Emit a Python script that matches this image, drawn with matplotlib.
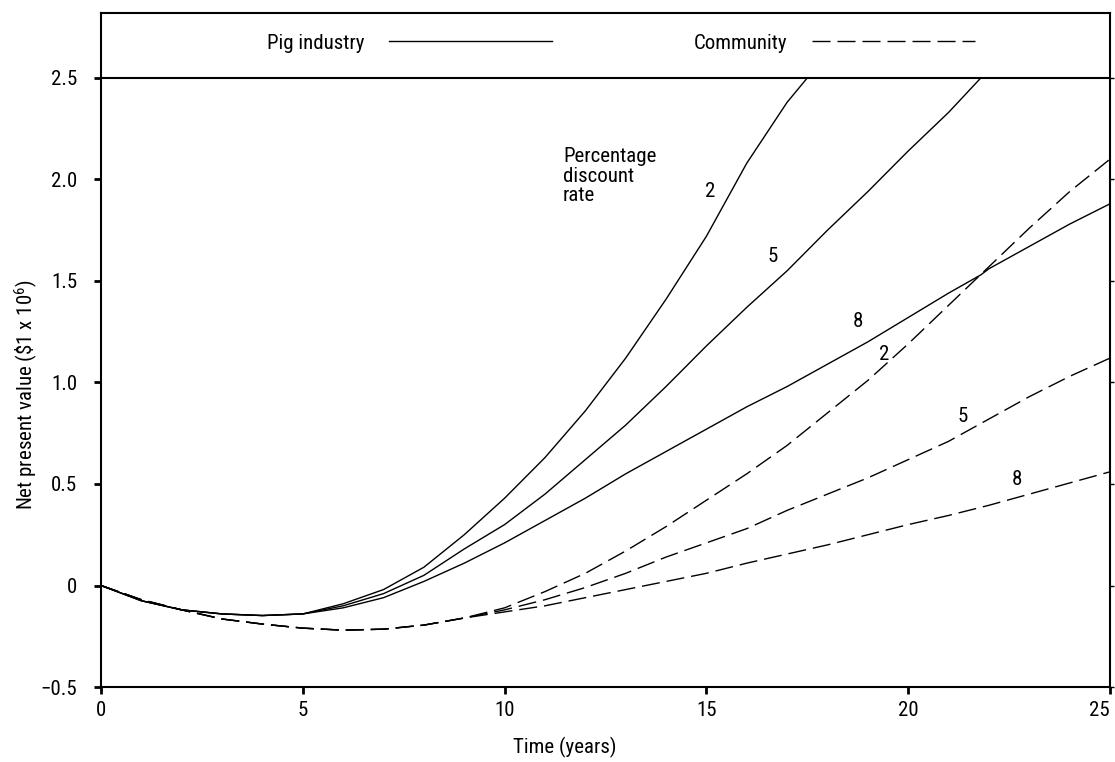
import numpy as np
import matplotlib
matplotlib.use('Agg')
import matplotlib.pyplot as plt
from matplotlib import font_manager

# pick a narrow font if there is one
fam = 'DejaVu Sans'
for f in ['Liberation Sans Narrow', 'Roboto Condensed', 'DejaVu Sans Condensed']:
    try:
        font_manager.findfont(f, fallback_to_default=False)
        fam = f
        break
    except Exception:
        pass
plt.rcParams['font.family'] = [fam, 'DejaVu Sans']
plt.rcParams['mathtext.fontset'] = 'custom'
plt.rcParams['mathtext.rm'] = fam
plt.rcParams['mathtext.default'] = 'rm'

# data (years, NPV in $1 x 10^6)
pig_x = [0, 1, 2, 3, 4, 5, 6, 7, 8, 9, 10, 11, 12, 13, 14, 15, 16, 17, 17.5,
         18, 19, 20, 21, 21.8, 22, 23, 24, 25]
pig_common = [0, -0.075, -0.12, -0.14, -0.148, -0.14]
pig_2 = pig_common + [-0.09, -0.02, 0.09, 0.25, 0.43, 0.63, 0.86, 1.12, 1.41, 1.72, 2.08, 2.38, 2.52]
pig_5 = pig_common + [-0.1, -0.04, 0.05, 0.18, 0.3, 0.45, 0.62, 0.79, 0.98, 1.18, 1.37, 1.55, 1.65,
                      1.75, 1.94, 2.14, 2.33, 2.5]
pig_8 = pig_common + [-0.11, -0.06, 0.02, 0.11, 0.21, 0.32, 0.43, 0.55, 0.66, 0.77, 0.88, 0.98, 1.035,
                      1.09, 1.2, 1.32, 1.44, 1.53, 1.56, 1.67, 1.78, 1.88]

com_x = list(range(0, 26))
com_common = [0, -0.07, -0.12, -0.165, -0.19, -0.21, -0.22, -0.215, -0.195, -0.16]
com_2 = com_common + [-0.11, -0.03, 0.06, 0.17, 0.29, 0.42, 0.55, 0.69, 0.85, 1.01,
                      1.19, 1.38, 1.57, 1.76, 1.94, 2.1]
com_5 = com_common + [-0.12, -0.07, -0.01, 0.06, 0.14, 0.21, 0.28, 0.37, 0.45, 0.53,
                      0.62, 0.71, 0.82, 0.93, 1.03, 1.12]
com_8 = com_common + [-0.13, -0.1, -0.06, -0.02, 0.02, 0.06, 0.11, 0.155, 0.2, 0.25,
                      0.3, 0.345, 0.395, 0.45, 0.505, 0.56]

xticks = [0, 5, 10, 15, 20, 25]
yticks = [-0.5, 0, 0.5, 1.0, 1.5, 2.0, 2.5]
ytick_labels = ['\u22120.5', '0', '0.5', '1.0', '1.5', '2.0', '2.5']

# rate labels: (text, x, y)
rate_labels = [('2', 15.1, 1.94), ('5', 16.65, 1.62), ('8', 18.76, 1.3),
               ('2', 19.4, 1.14), ('5', 21.36, 0.83), ('8', 22.7, 0.52)]

fs = 15

fig = plt.figure(figsize=(11.15, 7.62), dpi=100)
ax = fig.add_axes([0.0906, 0.0984, 0.9049, 0.8846])

dash = (0, (13, 5))
lw = 1.0
clip = lambda xs, ys: (np.array(xs[:len(ys)]), np.clip(np.array(ys), None, 2.5))
x, y = clip(pig_x, pig_2)
ax.plot(x, y, color='black', lw=lw, label='Pig industry')
x, y = clip(pig_x, pig_5)
ax.plot(x, y, color='black', lw=lw)
ax.plot(pig_x, pig_8, color='black', lw=lw)
ax.plot(com_x, com_2, color='black', lw=lw, ls=dash, label='Community')
ax.plot(com_x, com_5, color='black', lw=lw, ls=dash)
ax.plot(com_x, com_8, color='black', lw=lw, ls=dash)

ax.axhline(2.5, color='black', lw=1.5)

for t, lx, ly in rate_labels:
    ax.text(lx, ly, t, fontsize=fs, ha='center', va='center')
ax.text(11.45, 2.16, 'Percentage\ndiscount\nrate', fontsize=fs, ha='left', va='top',
        linespacing=1.05)

ax.set_xlim(0, 25)
ax.set_ylim(-0.5, 2.82)
ax.set_xticks(xticks)
ax.set_xticklabels([str(v) for v in xticks])
ax.set_yticks(yticks)
ax.set_yticklabels(ytick_labels)
ax.tick_params(axis='both', direction='out', length=5, width=2, labelsize=fs)
ax.tick_params(axis='y', pad=12, right=True)
ax.tick_params(axis='x', pad=5)
for t in ax.yaxis.get_major_ticks():
    t.tick2line.set_markersize(3)
    t.tick2line.set_markeredgewidth(1)
for s in ax.spines.values():
    s.set_linewidth(1.5)
last = ax.get_xticklabels()[-1]
last.set_horizontalalignment('right')
last.set_x(25.1)

ax.set_xlabel('Time (years)', fontsize=fs)
ax.xaxis.set_label_coords(0.46, -0.089)
ax.xaxis.label.set_va('center')
ax.set_ylabel(r'Net present value (\$1 x 10$^6$)', fontsize=fs)
ax.yaxis.set_label_coords(-0.074, 0.434)
ax.yaxis.label.set_va('center')

ax.legend(loc='center left', bbox_to_anchor=(0.1645, 0.955), ncol=2, frameon=False,
          markerfirst=False, handlelength=7.8, handletextpad=1.2, columnspacing=6.8,
          borderpad=0, borderaxespad=0, fontsize=fs)

fig.savefig('out.png', dpi=100)
